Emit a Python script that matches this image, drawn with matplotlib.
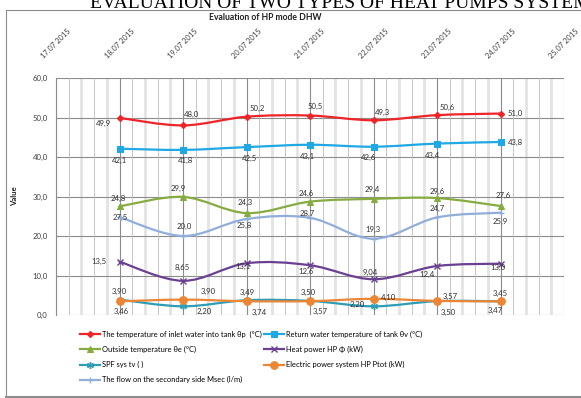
import matplotlib
matplotlib.use("Agg")
import matplotlib.pyplot as plt
import numpy as np
from matplotlib.path import Path
from matplotlib.patches import PathPatch
from matplotlib.lines import Line2D

# ---------------- data ----------------
date_labels = ["17.07 2015", "18.07 2015", "19.07 2015", "20.07 2015", "21.07 2015",
               "22.07 2015", "23.07 2015", "24.07 2015", "25.07 2015"]
day_index = [1, 2, 3, 4, 5, 6, 7]          # 18.07 ... 24.07

inlet_temp = [49.9, 48.0, 50.2, 50.5, 49.3, 50.6, 51.0]
return_temp = [42.1, 41.8, 42.5, 43.1, 42.6, 43.4, 43.8]
outside_temp = [27.5, 29.9, 25.8, 28.7, 29.4, 29.6, 27.6]
heat_power = [13.5, 8.65, 13.1, 12.6, 9.04, 12.4, 13.0]
spf_sys = [3.90, 2.20, 3.74, 3.57, 2.20, 3.50, 3.47]
electric_power = [3.46, 3.90, 3.49, 3.50, 4.10, 3.57, 3.45]
flow_secondary = [24.8, 20.0, 24.3, 24.6, 19.3, 24.7, 25.9]

series_names = [
    "The temperature of inlet water into tank \u03b8p  (\u00b0C)",
    "Return water temperature of tank \u03b8v (\u00b0C)",
    "Outside temperature \u03b8e (\u00b0C)",
    "Heat power HP \u03a6 (kW)",
    "SPF sys tv ( )",
    "Electric power system HP Ptot (kW)",
    "The flow on the secondary side Msec (l/m)",
]

# ---------------- styling ----------------
W, H, DPI = 581, 398, 100
FONT = ["Lato", "DejaVu Sans"]
plt.rcParams["font.family"] = FONT

styles = [
    dict(color="#EF2429", marker="D", ms=3.2, mew=0.8),
    dict(color="#1FA8E4", marker="s", ms=5.0, mew=0.8),
    dict(color="#86AC41", marker="^", ms=4.5, mew=0.8),
    dict(color="#6A4192", marker="x", ms=4.5, mew=1.0),
    dict(color="#2F9DB5", marker=(6, 2, 0), ms=5.0, mew=1.0),
    dict(color="#ED8634", marker="o", ms=5.5, mew=0.8),
    dict(color="#91AEDB", marker="+", ms=5.0, mew=1.0),
]

# data-label offsets (pixels: dx right, dy down) and alignment per point
label_layout = [
    [(-16, 6, "center"), (8, -11, "center"), (11, -8, "center"), (5, -9, "center"),
     (9, -8, "center"), (10, -8, "center"), (7, 0, "left")],
    [(0, 12, "center"), (2, 11, "center"), (3, 11, "center"), (-3, 12, "center"),
     (-5, 11, "center"), (-5, 12, "center"), (7, 0, "left")],
    [(1, 11, "center"), (-5, -8, "center"), (-2, 12, "center"), (-3, 12, "center"),
     (-1, -9, "center"), (0, -7, "center"), (3, -11, "center")],
    [(-21, 0, "center"), (-1, -13, "center"), (-4, 3, "center"), (-4, 6, "center"),
     (-3, -7, "center"), (-10, 8, "center"), (-3, 4, "center")],
    [(0, -8, "center"), (21, 5, "center"), (13, 12, "center"), (10, 11, "center"),
     (-16, -2, "center"), (11, 11, "center"), (-5, 9, "center")],
    [(2, 10, "center"), (25, -8, "center"), (1, -9, "center"), (-2, -9, "center"),
     (15, -1, "center"), (13, -4, "center"), (0, -8, "center")],
    [(-1, -19, "center"), (1, -10, "center"), (-1, -17, "center"), (-4, -24, "center"),
     (-1, -9, "center"), (0, -9, "center"), (0, 9, "center")],
]

label_formats = ["{:.1f}", "{:.1f}", "{:.1f}", None, "{:.2f}", "{:.2f}", "{:.1f}"]


def fmt(v, f):
    if f is None:
        s = "{:.1f}".format(v) if abs(v) >= 10 else "{:.2f}".format(v)
    else:
        s = f.format(v)
    return s.replace(".", ",")


def smooth_path(xs, ys):
    """Cubic Bezier through the points (Catmull-Rom style tangents)."""
    p = np.column_stack([xs, ys]).astype(float)
    n = len(p)
    verts = [p[0]]
    codes = [Path.MOVETO]
    for i in range(n - 1):
        p0 = p[i - 1] if i > 0 else p[i]
        p1 = p[i]
        p2 = p[i + 1]
        p3 = p[i + 2] if i + 2 < n else p[i + 1]
        c1 = p1 + (p2 - p0) / 6.0
        c2 = p2 - (p3 - p1) / 6.0
        verts += [c1, c2, p2]
        codes += [Path.CURVE4] * 3
    return Path(verts, codes)


fig = plt.figure(figsize=(W / DPI, H / DPI), dpi=DPI)
fig.patch.set_facecolor("white")

# plot area in pixels
L, R, T, B = 56, 564, 78, 315
ax = fig.add_axes([L / W, 1 - B / H, (R - L) / W, (B - T) / H])

ax.set_xlim(0, 8)
ax.set_ylim(0, 60)

# vertical grid: day lines plus light and thin sub-divisions
for k in range(0, 40):
    xv = k / 5.0
    if k % 5 == 0:
        continue
    if k % 5 in (2, 4):
        ax.axvline(xv, color="#E3E3E3", lw=2.0, zorder=0.5)
    else:
        ax.axvline(xv, color="#BDBDBD", lw=0.6, zorder=0.6)
ax.set_xticks(range(9))
ax.set_xticklabels(date_labels, rotation=45, ha="center", fontsize=5.4, color="#404040")
ax.xaxis.tick_top()
ax.tick_params(axis="x", length=0, pad=13)
ax.grid(axis="x", which="major", color="#8C8C8C", lw=0.8, zorder=0.7)

ax.set_yticks(np.arange(0, 61, 10))
ax.set_yticklabels([("%.1f" % v).replace(".", ",") for v in np.arange(0, 61, 10)],
                   fontsize=5.6, color="#404040")
ax.tick_params(axis="y", length=0, pad=6)
ax.grid(axis="y", color="#8C8C8C", lw=0.8, zorder=0.7)
ax.set_axisbelow(True)

for s in ["top", "right", "bottom"]:
    ax.spines[s].set_visible(False)
ax.spines["left"].set_color("#8C8C8C")
ax.spines["left"].set_linewidth(0.8)

ax.set_ylabel("Value", fontsize=5.6, fontweight="bold", color="#202020", labelpad=10)

all_series = [inlet_temp, return_temp, outside_temp, heat_power,
              spf_sys, electric_power, flow_secondary]

handles = []
for idx, (vals, st) in enumerate(zip(all_series, styles)):
    z = 3 + idx * 0.1
    if idx == 6:
        z = 2.9
    path = smooth_path(day_index, vals)
    ax.add_patch(PathPatch(path, fill=False, edgecolor=st["color"], lw=1.6,
                           capstyle="round", joinstyle="round", zorder=z))
    ax.plot(day_index, vals, linestyle="none", marker=st["marker"], ms=st["ms"],
            color=st["color"], mec=st["color"], mew=st["mew"], zorder=z + 0.05)
    for xi, v, (dx, dy, ha) in zip(day_index, vals, label_layout[idx]):
        ax.annotate(fmt(v, label_formats[idx]), (xi, v),
                    xytext=(dx * 72 / DPI, -dy * 72 / DPI), textcoords="offset points",
                    ha=ha, va="center", fontsize=5.6, color="#303030", zorder=6)
    handles.append(Line2D([], [], color=st["color"], lw=1.6, marker=st["marker"],
                          ms=st["ms"], mew=st["mew"], mec=st["color"]))

# legend: two columns, filled column by column
order = [0, 2, 4, 6, 1, 3, 5]
fig.legend([handles[i] for i in order], [series_names[i] for i in order],
           loc="upper left", bbox_to_anchor=(80 / W, 1 - 331 / H), ncol=2,
           frameon=False, fontsize=5.4, handlelength=2.7, handletextpad=0.3,
           columnspacing=0.2, labelspacing=1.05, borderaxespad=0, borderpad=0)

# chart title and frame
fig.text(265 / W, 1 - 17 / H, "Evaluation of HP mode DHW", ha="center", va="center",
         fontsize=6.2, fontweight="bold", color="#202020")
fig.add_artist(Line2D([5.5 / W, 5.5 / W], [1 - 10 / H, 1 - 396 / H], color="#8C8C8C",
                      lw=0.8, transform=fig.transFigure))
fig.add_artist(Line2D([5.5 / W, 1.0], [1 - 10 / H, 1 - 10 / H], color="#8C8C8C",
                      lw=0.8, transform=fig.transFigure))
fig.add_artist(Line2D([5.5 / W, 1.0], [1 - 396.5 / H, 1 - 396.5 / H], color="#8C8C8C",
                      lw=2.2, transform=fig.transFigure))

# page heading above the chart
fig.text(90 / W, 1 - 8 / H, "EVALUATION OF TWO TYPES OF HEAT PUMPS SYSTEM",
         ha="left", va="baseline", fontsize=14, family="Liberation Serif",
         color="#000000")

fig.savefig("out.png", dpi=DPI, facecolor="white")
